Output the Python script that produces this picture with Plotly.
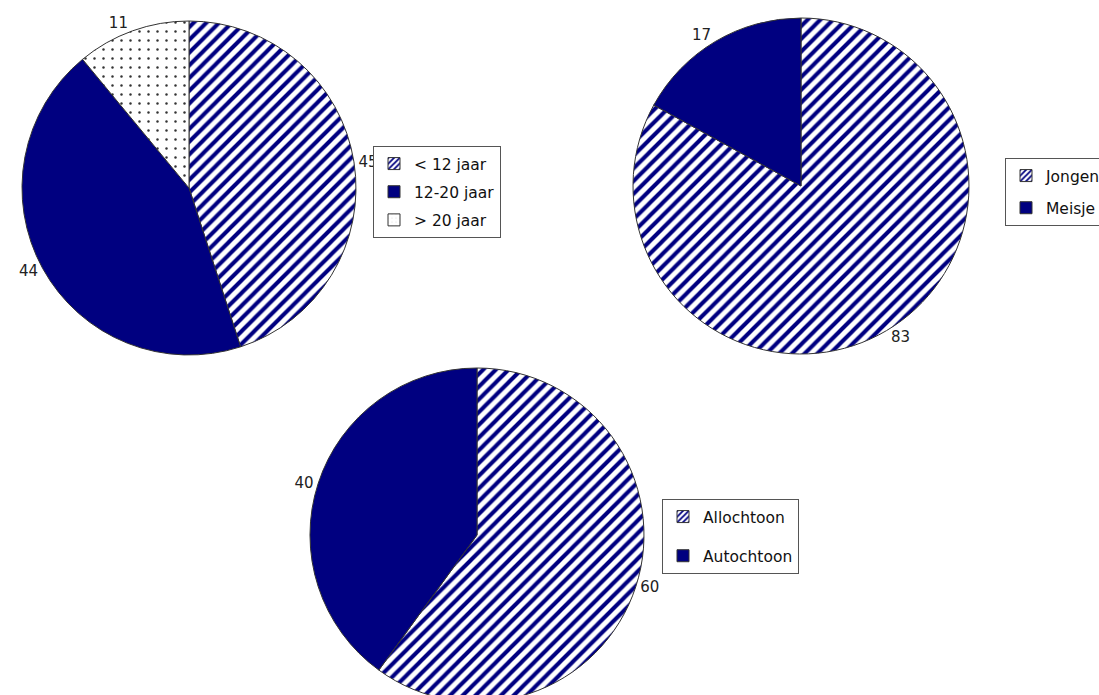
import plotly.graph_objects as go

# Data
age_labels = ["< 12 jaar", "12-20 jaar", "> 20 jaar"]
age_values = [45, 44, 11]
sex_labels = ["Jongen", "Meisje"]
sex_values = [83, 17]
origin_labels = ["Allochtoon", "Autochtoon"]
origin_values = [60, 40]

NAVY = "#000080"
W, H = 1099, 705  # figure slightly taller than the window; bottom is cropped like the reference
FONT = "DejaVu Sans"
FS = 15.5


def fills(kinds):
    colors, fg, shapes, sol = [], [], [], []
    for k in kinds:
        if k == "stripe":
            colors.append("white"); fg.append(NAVY); shapes.append("/"); sol.append(0.45)
        elif k == "solid":
            colors.append(NAVY); fg.append(NAVY); shapes.append(""); sol.append(0.3)
        else:
            colors.append("white"); fg.append("#333333"); shapes.append("."); sol.append(0.06)
    return colors, fg, shapes, sol


def pie_marker(kinds):
    colors, fg, shapes, sol = fills(kinds)
    return dict(colors=colors, line=dict(color="#333333", width=1),
                pattern=dict(shape=shapes, fgcolor=fg, size=9, solidity=sol,
                             fillmode="replace"))


def dom(cx, cy, r):
    return dict(x=[(cx - r) / W, (cx + r) / W],
                y=[max(0, (H - cy - r) / H), min(1, (H - cy + r) / H)])


common = dict(sort=False, direction="clockwise", rotation=0,
              textposition="outside", textinfo="value",
              textfont=dict(family=FONT, size=15, color="#222222"),
              hoverinfo="label+value", showlegend=False)

fig = go.Figure()
groups = [
    (age_labels, age_values, ["stripe", "solid", "dots"], (189, 188, 167), "legend"),
    (sex_labels, sex_values, ["stripe", "solid"], (801, 186, 168), "legend2"),
    (origin_labels, origin_values, ["stripe", "solid"], (477, 535, 167), "legend3"),
]
for labels, values, kinds, (cx, cy, r), lg in groups:
    fig.add_trace(go.Pie(labels=labels, values=values, marker=pie_marker(kinds),
                         domain=dom(cx, cy, r), **common))
    # legend keys only (these traces draw nothing)
    colors, fg, shapes, sol = fills(kinds)
    for i, lab in enumerate(labels):
        fig.add_trace(go.Bar(
            x=[None], y=[None], name=lab, legend=lg, legendgroup=lg + lab,
            showlegend=True, hoverinfo="skip",
            marker=dict(color=colors[i], line=dict(color="#333333", width=1),
                        pattern=dict(shape=shapes[i], fgcolor=fg[i], size=5,
                                     solidity=sol[i] if shapes[i] != "." else 0.01,
                                     fillmode="replace"))))

leg = dict(bgcolor="white", bordercolor="#555555", borderwidth=1,
           font=dict(family=FONT, size=FS, color="#111111"),
           xanchor="left", yanchor="top", itemclick=False, itemdoubleclick=False,
           traceorder="grouped")


def lpos(x, y):
    return dict(x=x / W, y=(H - y) / H)


fig.update_layout(
    width=W, height=H,
    margin=dict(l=0, r=0, t=0, b=0, autoexpand=False),
    paper_bgcolor="white", plot_bgcolor="rgba(0,0,0,0)",
    xaxis=dict(visible=False), yaxis=dict(visible=False),
    legend=dict(**lpos(373, 146), tracegroupgap=5, **leg),
    legend2=dict(**lpos(1005, 158), tracegroupgap=9, **leg),
    legend3=dict(**lpos(662, 499), tracegroupgap=16, **leg),
)

fig.write_html("out.html", config={"displayModeBar": False},
               post_script="document.body.style.margin='0';"
                           "document.body.style.overflow='hidden';")
